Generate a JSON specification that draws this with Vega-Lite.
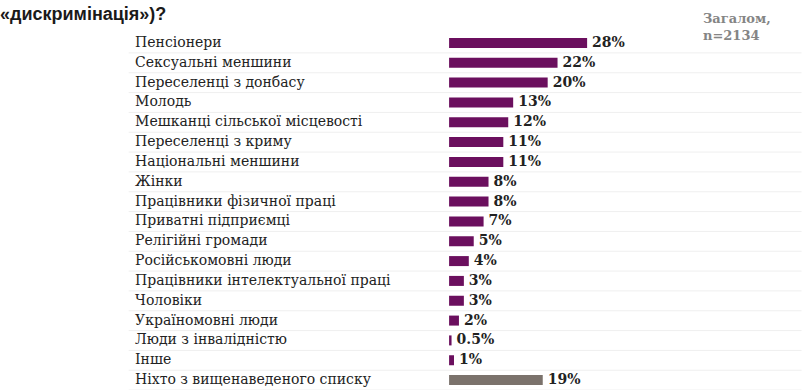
{
  "$schema": "https://vega.github.io/schema/vega-lite/v6.json",
  "width": 805,
  "height": 390,
  "autosize": {"type": "fit", "contains": "padding"},
  "padding": 0,
  "background": "white",
  "config": {"view": {"stroke": null}},
  "data": {
    "values": [
      {"category": "Пенсіонери", "value": 28, "label": "28%", "group": "a"},
      {"category": "Сексуальні меншини", "value": 22, "label": "22%", "group": "a"},
      {"category": "Переселенці з донбасу", "value": 20, "label": "20%", "group": "a"},
      {"category": "Молодь", "value": 13, "label": "13%", "group": "a"},
      {"category": "Мешканці сільської місцевості", "value": 12, "label": "12%", "group": "a"},
      {"category": "Переселенці з криму", "value": 11, "label": "11%", "group": "a"},
      {"category": "Національні меншини", "value": 11, "label": "11%", "group": "a"},
      {"category": "Жінки", "value": 8, "label": "8%", "group": "a"},
      {"category": "Працівники фізичної праці", "value": 8, "label": "8%", "group": "a"},
      {"category": "Приватні підприємці", "value": 7, "label": "7%", "group": "a"},
      {"category": "Релігійні громади", "value": 5, "label": "5%", "group": "a"},
      {"category": "Російськомовні люди", "value": 4, "label": "4%", "group": "a"},
      {"category": "Працівники інтелектуальної праці", "value": 3, "label": "3%", "group": "a"},
      {"category": "Чоловіки", "value": 3, "label": "3%", "group": "a"},
      {"category": "Україномовні люди", "value": 2, "label": "2%", "group": "a"},
      {"category": "Люди з інвалідністю", "value": 0.5, "label": "0.5%", "group": "a"},
      {"category": "Інше", "value": 1, "label": "1%", "group": "a"},
      {"category": "Ніхто з вищенаведеного списку", "value": 19, "label": "19%", "group": "b"}
    ]
  },
  "encoding": {
    "y": {
      "field": "category",
      "type": "nominal",
      "sort": null,
      "axis": null,
      "scale": {"range": [33, 390], "paddingInner": 0, "paddingOuter": 0}
    }
  },
  "layer": [
    {
      "mark": {"type": "rule", "color": "#efefef", "strokeWidth": 1, "yOffset": 10},
      "encoding": {
        "x": {"datum": -65, "type": "quantitative", "scale": {"domain": [-91.1, 72.2], "nice": false, "zero": false}, "axis": null},
        "x2": {"datum": 71.5}
      }
    },
    {
      "mark": {"type": "bar", "height": 10},
      "encoding": {
        "x": {"field": "value", "type": "quantitative"},
        "color": {"field": "group", "type": "nominal", "scale": {"domain": ["a", "b"], "range": ["#6b0f5e", "#7b726c"]}, "legend": null}
      }
    },
    {
      "mark": {"type": "text", "align": "left", "baseline": "middle", "dx": 5, "font": "DejaVu Serif", "fontWeight": "bold", "fontSize": 14, "color": "#222222"},
      "encoding": {
        "x": {"field": "value", "type": "quantitative"},
        "text": {"field": "label"}
      }
    },
    {
      "mark": {"type": "text", "align": "left", "baseline": "middle", "font": "DejaVu Serif", "fontSize": 14, "color": "#222222"},
      "encoding": {
        "x": {"datum": -63.7, "type": "quantitative"},
        "text": {"field": "category"}
      }
    },
    {
      "data": {"values": [{"t": "«дискримінація»)?", "anchor": "Пенсіонери"}]},
      "mark": {"type": "text", "align": "left", "baseline": "alphabetic", "font": "Liberation Sans", "fontWeight": "bold", "fontSize": 18, "color": "#1a1a1a", "yOffset": -23},
      "encoding": {
        "x": {"datum": -91.1, "type": "quantitative"},
        "y": {"field": "anchor", "type": "nominal"},
        "text": {"field": "t"}
      }
    },
    {
      "data": {"values": [{"t": "Загалом,", "anchor": "Пенсіонери", "off": -14.5}, {"t": "n=2134", "anchor": "Пенсіонери", "off": 3}]},
      "mark": {"type": "text", "align": "left", "baseline": "middle", "font": "DejaVu Serif", "fontWeight": "bold", "fontSize": 13, "color": "#858585"},
      "encoding": {
        "x": {"datum": 51.5, "type": "quantitative"},
        "y": {"field": "anchor", "type": "nominal"},
        "yOffset": {"field": "off", "type": "quantitative", "scale": null},
        "text": {"field": "t"}
      }
    }
  ]
}
